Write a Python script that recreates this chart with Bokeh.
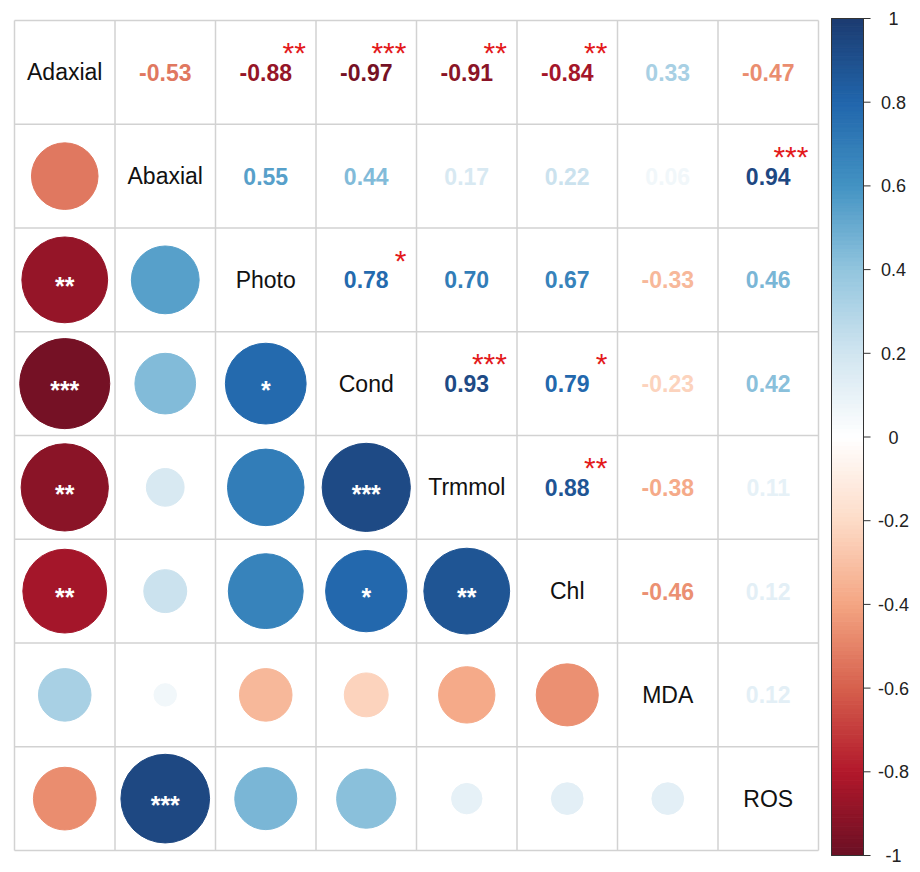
import numpy as np
from bokeh.plotting import figure
from bokeh.models import Range1d
from bokeh.core.properties import value
from bokeh.embed import file_html
from bokeh.resources import INLINE

# ---------------- data ----------------
labels = ["Adaxial", "Abaxial", "Photo", "Cond", "Trmmol", "Chl", "MDA", "ROS"]
# lower-triangle correlations, row by row (row i has i values)
corr_rows = [
    [],
    [-0.53],
    [-0.88, 0.55],
    [-0.97, 0.44, 0.78],
    [-0.91, 0.17, 0.70, 0.93],
    [-0.84, 0.22, 0.67, 0.79, 0.88],
    [0.33, 0.06, -0.33, -0.23, -0.38, -0.46],
    [-0.47, 0.94, 0.46, 0.42, 0.11, 0.12, 0.12],
]
sig_rows = [
    [],
    [""],
    ["**", ""],
    ["***", "", "*"],
    ["**", "", "", "***"],
    ["**", "", "", "*", "**"],
    ["", "", "", "", "", ""],
    ["", "***", "", "", "", "", ""],
]
cbar_ticks = [-1.0, -0.8, -0.6, -0.4, -0.2, 0.0, 0.2, 0.4, 0.6, 0.8, 1.0]
cbar_labels = ["-1", "-0.8", "-0.6", "-0.4", "-0.2", "0", "0.2", "0.4", "0.6", "0.8", "1"]

# ---------------- colours ----------------
anchors = ["#6A1024", "#B2182B", "#D6604D", "#F4A582", "#FDDBC7", "#FFFFFF",
           "#D1E5F0", "#92C5DE", "#4393C3", "#2166AC", "#1C3B70"]
anc = np.array([[int(h[i:i + 2], 16) for i in (1, 3, 5)] for h in anchors], dtype=float)
apos = np.linspace(-1, 1, len(anchors))


def cmap(v):
    rgb = [np.interp(v, apos, anc[:, k]) for k in range(3)]
    return "#%02x%02x%02x" % tuple(int(round(c)) for c in rgb)


n = len(labels)
FONT = value("Liberation Sans")

p = figure(width=920, height=872, output_backend="svg", toolbar_location=None,
           min_border=0, x_range=Range1d(-14 / 100.5, 906 / 100.5),
           y_range=Range1d(-22 / 103.75, 8 + 20 / 103.75))
p.xaxis.visible = False
p.yaxis.visible = False
p.xgrid.visible = False
p.ygrid.visible = False
p.outline_line_color = None
p.background_fill_color = "white"
p.border_fill_color = "white"

# grid
gx = list(range(n + 1))
p.segment(x0=gx, y0=[0] * (n + 1), x1=gx, y1=[n] * (n + 1), line_color="#d2d2d2", line_width=1.5)
p.segment(x0=[0] * (n + 1), y0=gx, x1=[n] * (n + 1), y1=gx, line_color="#d2d2d2", line_width=1.5)

# lower circles, upper numbers
cx, cy, cr, cc, cs = [], [], [], [], []
ux, uy, ut, uc = [], [], [], []
sx, sy, st = [], [], []
for i in range(n):
    for j in range(i):
        r = corr_rows[i][j]
        s = sig_rows[i][j]
        # lower: row i, col j
        cx.append(j + 0.5)
        cy.append(n - i - 0.5)
        cr.append(0.455 * np.sqrt(abs(r)))
        cc.append(cmap(r))
        cs.append(s)
        # upper: row j, col i
        ux.append(i + 0.5)
        uy.append(n - j - 0.5)
        ut.append("%.2f" % r)
        uc.append(cmap(r))
        if s:
            sx.append(i + 1 - 0.1)
            sy.append(n - j - 0.5 + 0.19)
            st.append(s)

p.circle(x=cx, y=cy, radius=cr, fill_color=cc, line_color=cc, line_width=1)
p.text(x=cx, y=[y - 0.06 for y in cy], text=cs, text_color="white", text_font=FONT,
       text_font_style="bold", text_font_size="25px", text_align="center", text_baseline="middle")
p.text(x=ux, y=uy, text=ut, text_color=uc, text_font=FONT, text_font_style="bold",
       text_font_size="23px", text_align="center", text_baseline="middle")
p.text(x=sx, y=sy, text=st, text_color="#e31a1c", text_font=FONT,
       text_font_size="30px", text_align="right", text_baseline="middle")

# diagonal labels
p.text(x=[k + 0.5 for k in range(n)], y=[n - k - 0.5 for k in range(n)], text=labels,
       text_color="#111111", text_font=FONT, text_font_size="23px",
       text_align="center", text_baseline="middle")

# colour bar
y_lo, y_hi = -5 / 103.75, 8 + 2 / 103.75
x_lo, x_hi = (831 - 14) / 100.5, (863 - 14) / 100.5
steps = np.linspace(-1, 1, 201)
vy = lambda v: y_lo + (v + 1) / 2 * (y_hi - y_lo)
bar_cols = [cmap((a + b) / 2) for a, b in zip(steps[:-1], steps[1:])]
p.quad(left=x_lo, right=x_hi, bottom=[vy(a) for a in steps[:-1]], top=[vy(b) for b in steps[1:]],
       fill_color=bar_cols, line_color=bar_cols, line_width=1)
p.quad(left=[x_lo], right=[x_hi], bottom=[y_lo], top=[y_hi], fill_color=None,
       line_color="#333333", line_width=1)
ty = [vy(t) for t in cbar_ticks]
p.segment(x0=[x_hi] * len(ty), y0=ty, x1=[x_hi + 0.07] * len(ty), y1=ty, line_color="#333333")
p.text(x=[(893 - 14) / 100.5] * len(ty), y=ty, text=cbar_labels, text_color="#222222",
       text_font=FONT, text_font_size="18px", text_align="center", text_baseline="middle")

open("out.html", "w").write(file_html(p, INLINE))
